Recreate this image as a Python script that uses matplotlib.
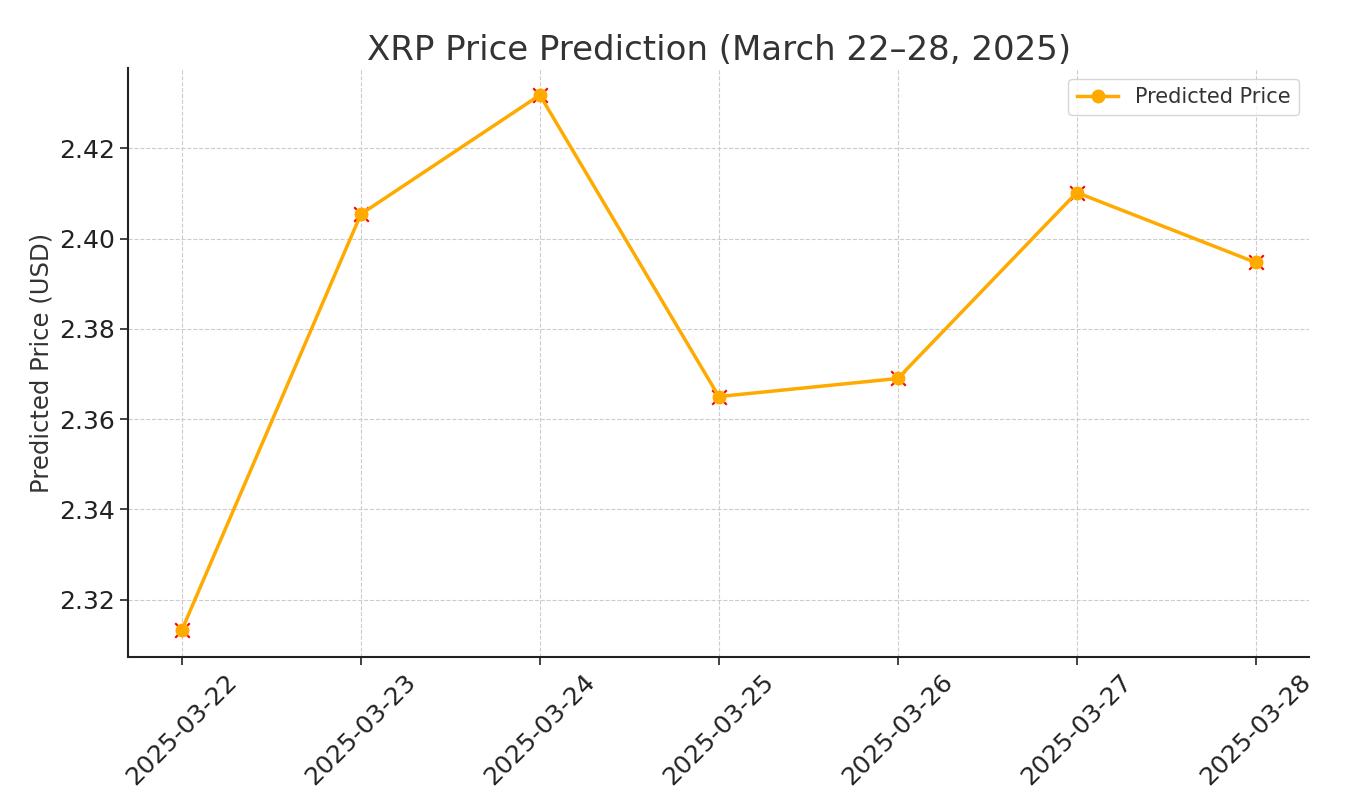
"""XRP price prediction line chart."""

import matplotlib

matplotlib.use("Agg")
import matplotlib.pyplot as plt

dates = ["2025-03-22", "2025-03-23", "2025-03-24", "2025-03-25",
         "2025-03-26", "2025-03-27", "2025-03-28"]
prices = [2.3133, 2.4054, 2.4318, 2.3650, 2.3690, 2.4102, 2.3947]

plt.rcParams["font.family"] = ["DejaVu Sans"]
text_color = "#333333"

fig, ax = plt.subplots(figsize=(13.64, 7.94), dpi=100)
ax.plot(dates, prices, color="#FFAA00", linewidth=2.5, marker="o",
        markersize=9, label="Predicted Price", zorder=3)
ax.scatter(dates, prices, color="red", marker="x", s=110, linewidths=1.5,
           zorder=2)

ax.set_title("XRP Price Prediction (March 22–28, 2025)", fontsize=24.5,
             color=text_color)
ax.set_ylabel("Predicted Price (USD)", fontsize=17.5, color=text_color)
ax.set_yticks([2.32, 2.34, 2.36, 2.38, 2.40, 2.42])
ax.set_yticklabels(["2.32", "2.34", "2.36", "2.38", "2.40", "2.42"])
ax.tick_params(axis="both", labelsize=18, colors="#222222", length=6,
               width=1.2)
plt.setp(ax.get_xticklabels(), rotation=45)
ax.grid(True, linestyle="--", color="#cccccc", linewidth=0.8)
ax.spines["top"].set_visible(False)
ax.spines["right"].set_visible(False)
for side in ["left", "bottom"]:
    ax.spines[side].set_linewidth(1.5)
    ax.spines[side].set_color("#222222")
ax.legend(loc="upper right", fontsize=15, labelcolor=text_color)

fig.subplots_adjust(left=0.094, right=0.96, top=0.914, bottom=0.173)
fig.savefig("out.png", dpi=100)
plt.close(fig)
